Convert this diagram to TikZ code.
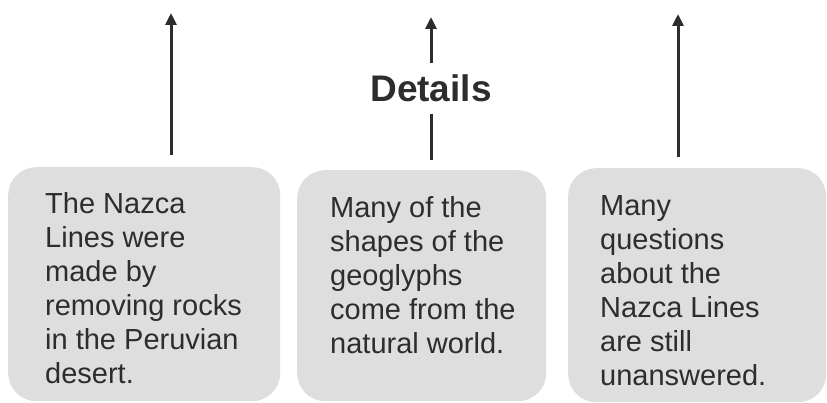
\documentclass[tikz,border=0pt]{standalone}
\usepackage{fontspec}
\setmainfont{Liberation Sans}
\usetikzlibrary{arrows.meta}
\definecolor{boxgray}{RGB}{222,222,222}
\definecolor{ink}{RGB}{45,45,45}
\begin{document}
\begin{tikzpicture}[x=1pt,y=-1pt,
  box/.style={fill=boxgray, rounded corners=28pt, inner sep=0, anchor=north west},
  txt/.style={anchor=north west, inner sep=0, align=left, text=ink, font=\fontsize{29}{34}\selectfont},
  arr/.style={draw=ink, line width=3pt, -{Triangle[length=12pt,width=11pt]}},
  seg/.style={draw=ink, line width=3pt}]
\useasboundingbox (0,0) rectangle (827,403);
% boxes
\node[box, minimum width=272pt, minimum height=234pt] (b1) at (8,167) {};
\node[box, minimum width=249pt, minimum height=231pt] (b2) at (297,170) {};
\node[box, minimum width=258pt, minimum height=234pt] (b3) at (568,168) {};
% texts
\node[txt] (l1) at (45,192) {The Nazca\\Lines were\\made by\\removing rocks\\in the Peruvian\\desert.};
\node[txt] (l2) at (330,196) {Many of the\\shapes of the\\geoglyphs\\come from the\\natural world.};
\node[txt] (l3) at (600,195) {Many\\questions\\about the\\Nazca Lines\\are still\\unanswered.};
% label
\node[inner sep=0, text=ink, font=\bfseries\fontsize{37}{44}\selectfont] (det) at (431,88) {Details};
% arrow ends
\coordinate (e1) at (171,13);
\coordinate (e2) at (431,17);
\coordinate (e3) at (678,14);
% connectors
\draw[arr] ([yshift=12pt]b1.north -| e1) -- (e1);
\draw[seg] ([yshift=10pt]b2.north -| det) -- ([yshift=-12pt]det.south);
\draw[arr] ([yshift=11pt]det.north) -- (e2);
\draw[arr] ([yshift=11pt]b3.north -| e3) -- (e3);
\end{tikzpicture}
\end{document}
